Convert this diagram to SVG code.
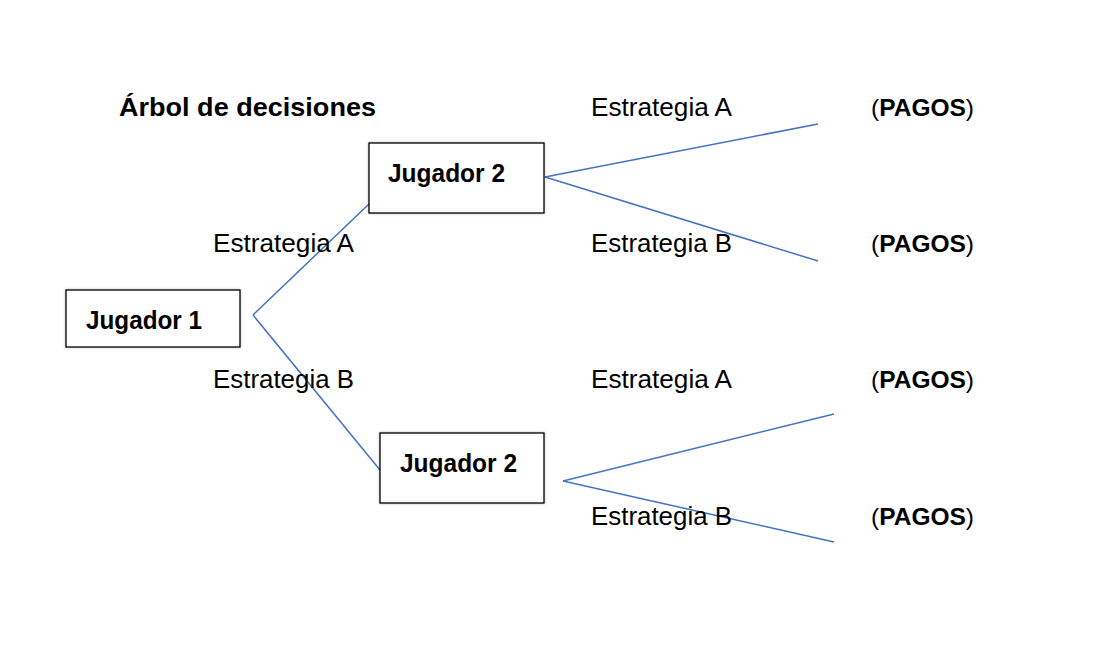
<svg xmlns="http://www.w3.org/2000/svg" width="1106" height="655" viewBox="0 0 1106 655">
  <style>
    text { font-family: "Liberation Sans", Arial, sans-serif; font-size: 26px; fill: #000; }
    .b { font-weight: bold; }
    .pay { font-size: 24.5px; }
    .box { fill: #fff; stroke: #000; stroke-width: 1.3; }
    .edge { stroke: #4472C4; stroke-width: 1.5; fill: none; }
  </style>
  <defs>
    <filter id="soft" x="-10%" y="-20%" width="120%" height="140%">
      <feDropShadow dx="0" dy="0" stdDeviation="1.5" flood-color="#000" flood-opacity="0.25"/>
    </filter>
  </defs>
  <rect width="1106" height="655" fill="#fff"/>

  <text class="b" x="119" y="116" textLength="257" lengthAdjust="spacingAndGlyphs">Árbol de decisiones</text>

  <g id="connectors">
    <line class="edge" x1="253" y1="315" x2="370" y2="203"/>
    <line class="edge" x1="253" y1="315" x2="380" y2="470"/>
    <line class="edge" x1="545" y1="177" x2="818" y2="124"/>
    <line class="edge" x1="545" y1="177" x2="818" y2="261"/>
    <line class="edge" x1="563" y1="481" x2="834" y2="414"/>
    <line class="edge" x1="563" y1="481" x2="834" y2="542"/>
  </g>

  <g id="labels">
    <text x="213" y="252" textLength="141" lengthAdjust="spacingAndGlyphs">Estrategia A</text>
    <text x="213" y="388" textLength="141" lengthAdjust="spacingAndGlyphs">Estrategia B</text>
    <text x="591" y="116" textLength="141" lengthAdjust="spacingAndGlyphs">Estrategia A</text>
    <text x="591" y="252" textLength="141" lengthAdjust="spacingAndGlyphs">Estrategia B</text>
    <text x="591" y="388" textLength="141" lengthAdjust="spacingAndGlyphs">Estrategia A</text>
    <text x="591" y="525" textLength="141" lengthAdjust="spacingAndGlyphs">Estrategia B</text>
  </g>

  <g id="payoffs">
    <text class="pay" x="871" y="116">(<tspan class="b">PAGOS</tspan>)</text>
    <text class="pay" x="871" y="252">(<tspan class="b">PAGOS</tspan>)</text>
    <text class="pay" x="871" y="388">(<tspan class="b">PAGOS</tspan>)</text>
    <text class="pay" x="871" y="525">(<tspan class="b">PAGOS</tspan>)</text>
  </g>

  <g id="jugador1">
    <rect class="box" x="66" y="290" width="174" height="57" filter="url(#soft)"/>
    <text class="b" x="86" y="329" textLength="116" lengthAdjust="spacingAndGlyphs">Jugador 1</text>
  </g>

  <g id="jugador2-top">
    <rect class="box" x="369" y="143" width="175" height="70" filter="url(#soft)"/>
    <text class="b" x="388" y="182" textLength="117" lengthAdjust="spacingAndGlyphs">Jugador 2</text>
  </g>

  <g id="jugador2-bottom">
    <rect class="box" x="380" y="433" width="164" height="70" filter="url(#soft)"/>
    <text class="b" x="400" y="472" textLength="117" lengthAdjust="spacingAndGlyphs">Jugador 2</text>
  </g>
</svg>
